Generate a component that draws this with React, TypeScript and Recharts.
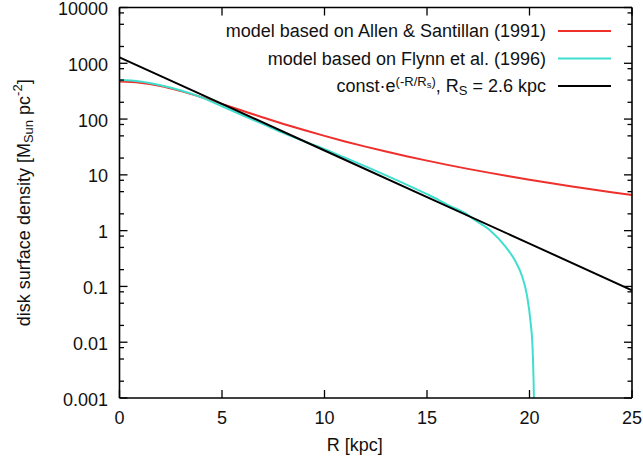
import React from 'react';
import { LineChart, Line, XAxis, YAxis, Legend, Label } from 'recharts';

// ---- data ----
const radiusAllen = [0, 1, 2, 3, 4, 5, 6, 7, 8, 9, 10, 11, 12, 13, 14, 15, 16, 17, 18, 19, 20, 21, 22, 23, 24, 25];
const densityAllen = [470, 450, 393, 317, 246, 186, 141, 107, 81.8, 63.5, 49.9, 39.7, 32.1, 26.2, 21.6, 18.0, 15.1, 12.8, 10.96, 9.44, 8.18, 7.13, 6.25, 5.51, 4.88, 4.34];

const radiusFlynn = [0, 1, 2, 3, 4, 5, 6, 7, 8, 9, 10, 11, 12, 13, 14, 15, 15.6, 16, 17, 17.22, 18.03, 18.84, 19.33, 19.65, 19.89, 20.06, 20.14, 20.2, 20.22];
const densityFlynn = [500, 472, 405, 325, 245, 170, 117, 81, 56, 40, 29, 20.3, 14.2, 9.8, 6.7, 4.5, 3.5, 2.9, 1.9, 1.65, 1.05, 0.51, 0.275, 0.148, 0.065, 0.0216, 0.0095, 0.002, 0.0008];

const radiusExp = [0, 5, 10, 15, 20, 25];
const densityExp = [1280, 187, 27.35, 4.0, 0.585, 0.0854];

const xTicks = [0, 5, 10, 15, 20, 25];
const yMajorTicks = [0.001, 0.01, 0.1, 1, 10, 100, 1000, 10000];
const yTickLabels = ['0.001', '0.01', '0.1', '1', '10', '100', '1000', '10000'];
const yMinorTicks = [
  0.002, 0.005, 0.008, 0.02, 0.05, 0.08, 0.2, 0.5, 0.8, 2, 5, 8,
  20, 50, 80, 200, 500, 800, 2000, 5000, 8000,
];

const seriesNames = [
  'model based on Allen & Santillan (1991)',
  'model based on Flynn et al. (1996)',
  'const·e^(-R/Rs), Rs = 2.6 kpc',
];
const seriesColors = ['#ee2f2b', '#3fdfcf', '#000000'];

// ---- helpers ----
const FONT = '"Liberation Sans", Arial, Helvetica, sans-serif';
const FS = 18;
const MAJOR = 8;
const MINOR = 4.5;
const TICK_W = 1.3;
const TICK_C = '#000';

const allYTicks = [...yMajorTicks, ...yMinorTicks].sort((a, b) => a - b);

const rowsAllen = radiusAllen.map((r, i) => ({ R: r, v: densityAllen[i] }));
const rowsFlynn = radiusFlynn.map((r, i) => ({ R: r, v: densityFlynn[i] }));
const rowsExp = radiusExp.map((r, i) => ({ R: r, v: densityExp[i] }));

const tickStyle = { stroke: TICK_C, strokeWidth: TICK_W };

const BottomTick = (props: any) => {
  const x = Number(props.x);
  const y = Number(props.y);
  return (
    <g>
      <line x1={x} x2={x} y1={y} y2={y - MAJOR} style={tickStyle} />
      <text x={x} y={y + 25.5} textAnchor="middle" fontSize={FS} fontFamily={FONT} fill="#111">
        {props.payload.value}
      </text>
    </g>
  );
};

const TopTick = (props: any) => {
  const x = Number(props.x);
  const y = Number(props.y);
  return <line x1={x} x2={x} y1={y} y2={y + MAJOR} style={tickStyle} />;
};

const LeftTick = (props: any) => {
  const x = Number(props.x);
  const y = Number(props.y);
  const idx = yMajorTicks.indexOf(props.payload.value);
  const len = idx >= 0 ? MAJOR : MINOR;
  return (
    <g>
      <line x1={x} x2={x + len} y1={y} y2={y} style={tickStyle} />
      {idx >= 0 && (
        <text x={x - 11.5} y={y + 7.5} textAnchor="end" fontSize={FS} fontFamily={FONT} fill="#111">
          {yTickLabels[idx]}
        </text>
      )}
    </g>
  );
};

const RightTick = (props: any) => {
  const x = Number(props.x);
  const y = Number(props.y);
  const len = yMajorTicks.indexOf(props.payload.value) >= 0 ? MAJOR : MINOR;
  return <line x1={x} x2={x - len} y1={y} y2={y} style={tickStyle} />;
};

const XLabel = (props: any) => {
  const vb = props.viewBox || { x: 0, y: 0, width: 0, height: 0 };
  return (
    <text x={vb.x + vb.width / 2 - 21} y={vb.y + 53} textAnchor="middle" fontSize={FS} fontFamily={FONT} fill="#111">
      R [kpc]
    </text>
  );
};

const YLabel = (props: any) => {
  const vb = props.viewBox || { x: 0, y: 0, width: 0, height: 0 };
  const cx = 24;
  const cy = vb.y + vb.height / 2;
  return (
    <text
      x={cx}
      y={cy}
      transform={`rotate(-90 ${cx} ${cy})`}
      textAnchor="middle"
      dominantBaseline="central"
      fontSize={FS}
      fontFamily={FONT}
      fill="#111"
      style={{ whiteSpace: 'pre' }}
    >
      {'disk surface density [M'}
      <tspan dy={4} fontSize={13}>Sun</tspan>
      <tspan dy={-4}>{' pc'}</tspan>
      <tspan dy={-7} fontSize={13}>-2</tspan>
      <tspan dy={7}>]</tspan>
    </text>
  );
};

const legendRows = [37, 64.5, 92];

const renderLegend = () => (
  <svg width={643} height={110} style={{ display: 'block' }}>
    {seriesNames.map((name, i) => {
      const y = legendRows[i];
      return (
        <g key={name}>
          {i < 2 ? (
            <text x={546} y={y} textAnchor="end" fontSize={FS} fontFamily={FONT} fill="#111">
              {name}
            </text>
          ) : (
            <text x={546} y={y} textAnchor="end" fontSize={FS} fontFamily={FONT} fill="#111" style={{ whiteSpace: 'pre' }}>
              {'const\u00B7e'}
              <tspan dy={-6.5} fontSize={13}>(-R/R</tspan>
              <tspan dy={2} fontSize={9.5}>s</tspan>
              <tspan dy={-2} fontSize={13}>)</tspan>
              <tspan dy={6.5}>{', R'}</tspan>
              <tspan dy={3} fontSize={13}>S</tspan>
              <tspan dy={-3}>{' = 2.6 kpc'}</tspan>
            </text>
          )}
          <line x1={558} x2={611} y1={y - 6} y2={y - 6} stroke={seriesColors[i]} strokeWidth={2} />
        </g>
      );
    })}
  </svg>
);

export default function App() {
  return (
    <div style={{ position: 'absolute', left: 0, top: 0, width: 643, height: 462, background: '#fff' }}>
      <LineChart width={643} height={462} margin={{ top: 6.5, right: 10, bottom: 0, left: 0 }}>
        <XAxis
          xAxisId="bottom"
          dataKey="R"
          type="number"
          domain={[0, 25]}
          ticks={xTicks}
          interval={0}
          allowDataOverflow
          height={64}
          tickSize={0}
          tickMargin={0}
          tickLine={false}
          axisLine={{ stroke: '#000', strokeWidth: 1.6 }}
          tick={<BottomTick />}
        >
          <Label content={<XLabel />} />
        </XAxis>
        <XAxis
          xAxisId="top"
          orientation="top"
          dataKey="R"
          type="number"
          domain={[0, 25]}
          ticks={xTicks}
          interval={0}
          allowDataOverflow
          height={1}
          tickSize={0}
          tickMargin={0}
          tickLine={false}
          axisLine={{ stroke: '#000', strokeWidth: 1.6 }}
          tick={<TopTick />}
        />
        <YAxis
          yAxisId="left"
          scale="log"
          type="number"
          domain={[0.001, 10000]}
          ticks={allYTicks}
          interval={0}
          allowDataOverflow
          width={119.5}
          tickSize={0}
          tickMargin={0}
          tickLine={false}
          axisLine={{ stroke: '#000', strokeWidth: 1.6 }}
          tick={<LeftTick />}
        >
          <Label content={<YLabel />} />
        </YAxis>
        <YAxis
          yAxisId="right"
          orientation="right"
          scale="log"
          type="number"
          domain={[0.001, 10000]}
          ticks={allYTicks}
          interval={0}
          allowDataOverflow
          width={1}
          tickSize={0}
          tickMargin={0}
          tickLine={false}
          axisLine={{ stroke: '#000', strokeWidth: 1.6 }}
          tick={<RightTick />}
        />
        <Legend
          content={renderLegend}
          layout="horizontal"
          verticalAlign="middle"
          align="center"
          wrapperStyle={{ position: 'absolute', left: 0, top: 0, width: 643, height: 110, pointerEvents: 'none' }}
        />
        <Line
          xAxisId="bottom"
          yAxisId="left"
          data={rowsAllen}
          dataKey="v"
          name={seriesNames[0]}
          type="monotone"
          stroke={seriesColors[0]}
          strokeWidth={2}
          dot={false}
          isAnimationActive={false}
        />
        <Line
          xAxisId="bottom"
          yAxisId="left"
          data={rowsFlynn}
          dataKey="v"
          name={seriesNames[1]}
          type="monotone"
          stroke={seriesColors[1]}
          strokeWidth={2}
          dot={false}
          isAnimationActive={false}
        />
        <Line
          xAxisId="bottom"
          yAxisId="left"
          data={rowsExp}
          dataKey="v"
          name={seriesNames[2]}
          type="linear"
          stroke={seriesColors[2]}
          strokeWidth={2}
          dot={false}
          isAnimationActive={false}
        />
      </LineChart>
    </div>
  );
}
